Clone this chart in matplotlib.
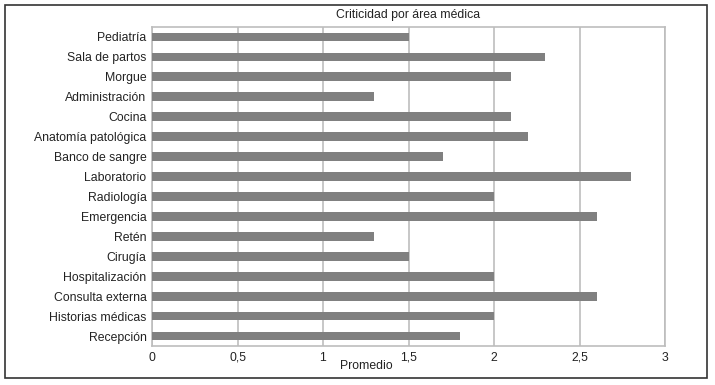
import matplotlib.pyplot as plt
from matplotlib.patches import Rectangle

plt.rcParams['font.family'] = ['Liberation Sans', 'DejaVu Sans']

areas = ['Pediatría', 'Sala de partos', 'Morgue', 'Administración', 'Cocina',
         'Anatomía patológica', 'Banco de sangre', 'Laboratorio', 'Radiología',
         'Emergencia', 'Retén', 'Cirugía', 'Hospitalización', 'Consulta externa',
         'Historias médicas', 'Recepción']
promedio = [1.5, 2.3, 2.1, 1.3, 2.1, 2.2, 1.7, 2.8, 2.0, 2.6, 1.3, 1.5, 2.0, 2.6, 2.0, 1.8]
xticks = [0, 0.5, 1, 1.5, 2, 2.5, 3]
xticklabels = ['0', '0,5', '1', '1,5', '2', '2,5', '3']

fig = plt.figure(figsize=(7.15, 3.85), dpi=100)
ax = fig.add_axes([152/715, 1-346/385, (665-152)/715, (346-27)/385])

ypos = range(len(areas))
ax.barh(ypos, promedio, height=0.44, color='#808080', zorder=3)
ax.set_yticks(list(ypos))
ax.set_yticklabels(areas, fontsize=8.8, color='#222222')
ax.set_ylim(len(areas)-0.5, -0.5)
ax.set_xlim(0, 3)
ax.set_xticks(xticks)
ax.set_xticklabels(xticklabels, fontsize=8.8, color='#222222')
ax.tick_params(length=0, pad=4)
ax.grid(axis='x', color='#bdbdbd', linewidth=1.2, zorder=0)
for s in ax.spines.values():
    s.set_color('#bdbdbd')
    s.set_linewidth(1.2)

fig.text(408/715, 1-15/385, 'Criticidad por área médica', ha='center', va='center', fontsize=8.8, color='#222222')
fig.text(366/715, 1-366/385, 'Promedio', ha='center', va='center', fontsize=8.8, color='#222222')

# outer frame
fig.patches.append(Rectangle((5/715, 1-378/385), 702/715, 373/385, transform=fig.transFigure,
                             fill=False, edgecolor='#333333', linewidth=1.2))

fig.savefig('out.png', dpi=100)
